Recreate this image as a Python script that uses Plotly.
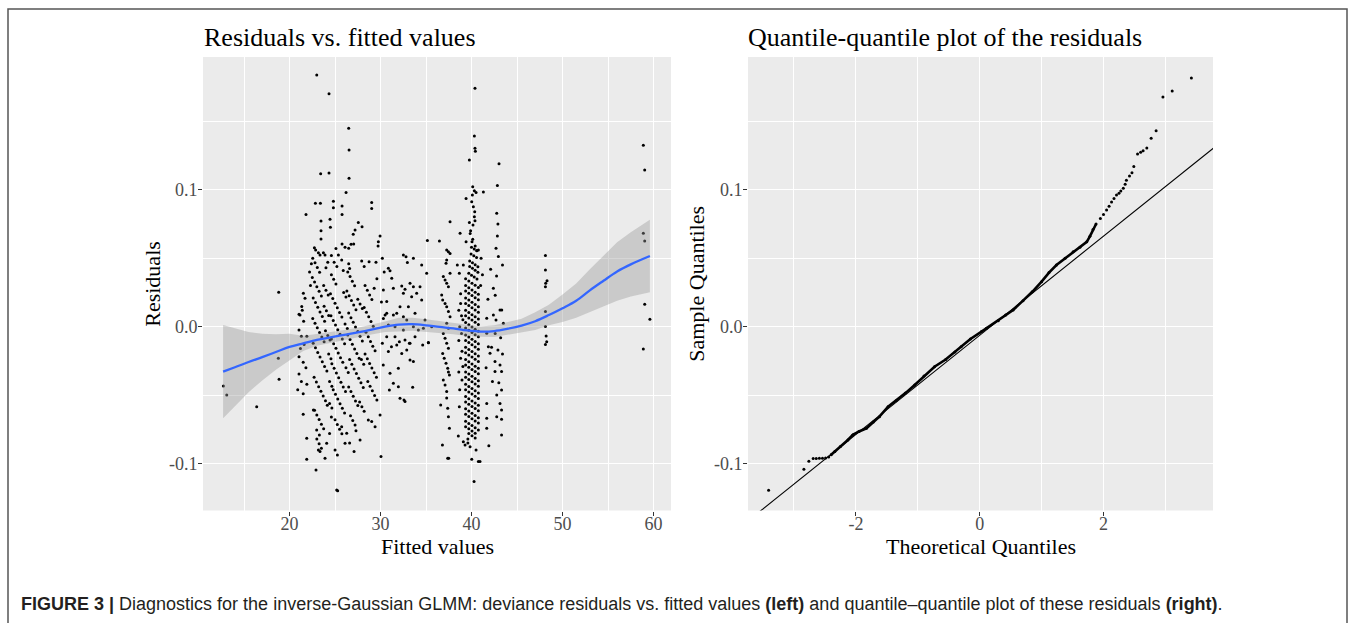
import plotly.graph_objects as go

# ---------------- Left panel: (fitted value, deviance residual) ----------------
pts_outliers = [(12.73, -0.0433), (13.10, -0.0498), (16.39, -0.0584), (18.81, 0.0251), (18.77, -0.0231), (18.85, -0.0384)]

pts_48 = [(48.12, 0.0520), (48.12, 0.0414), (48.30, 0.0336), (48.15, 0.0317), (48.12, 0.0292), (48.12, 0.0110),
          (48.12, 0.0001), (48.20, -0.0068), (48.26, -0.0110), (48.12, -0.0130)]

pts_59 = [(58.88, 0.1324), (59.03, 0.1144), (58.88, 0.0682), (59.03, 0.0626), (59.03, 0.0164), (59.60, 0.0054), (58.88, -0.0163)]

pts_edge21 = [(21.04, 0.0090), (21.04, -0.0024), (21.04, -0.0220), (21.04, -0.0345), (20.90, -0.0460), (21.81, 0.0820),
              (21.52, 0.0244), (21.34, 0.0147), (21.15, 0.0086), (21.70, 0.0207), (21.40, 0.0120), (21.55, 0.0040),
              (21.30, -0.0070), (21.60, -0.0130), (21.90, -0.0070), (21.20, -0.0160), (21.50, -0.0260), (21.80, -0.0300),
              (21.30, -0.0400), (21.90, -0.0420), (21.50, -0.0490), (21.50, -0.0640), (21.89, -0.0815), (21.89, -0.0968)]

pts_upper = [(22.99, 0.1838), (24.34, 0.1701), (26.50, 0.1448), (26.54, 0.1290), (26.54, 0.1083), (23.42, 0.1117),
             (24.34, 0.1122), (26.21, 0.0979), (22.84, 0.0901), (23.39, 0.0901), (24.82, 0.0915), (24.82, 0.0869),
             (25.77, 0.0881), (25.77, 0.0820), (24.45, 0.0784), (23.46, 0.0772), (24.49, 0.0726), (23.46, 0.0701),
             (27.56, 0.0760), (27.97, 0.0730), (27.20, 0.0706), (27.00, 0.0674), (29.03, 0.0906), (29.03, 0.0862),
             (29.95, 0.0662), (29.76, 0.0620), (29.73, 0.0589), (23.46, 0.0640), (22.73, 0.0577), (22.87, 0.0560),
             (23.17, 0.0540), (23.35, 0.0524), (23.72, 0.0540), (23.90, 0.0524), (25.77, 0.0604), (26.10, 0.0580),
             (26.50, 0.0572), (26.76, 0.0602), (27.05, 0.0604), (25.37, 0.0524), (25.73, 0.0487), (27.93, 0.0480),
             (28.74, 0.0475), (26.50, 0.0460), (26.60, 0.0425), (24.20, 0.0470), (24.00, 0.0430), (25.90, 0.0410),
             (28.20, 0.0440), (29.50, 0.0470), (22.40, 0.0460), (29.60, 0.0350), (29.30, 0.0280),
             (22.20, 0.0400), (22.30, 0.0300), (24.60, 0.0520), (24.90, 0.0470), (25.20, 0.0440), (25.10, 0.0570)]

streaks_22 = [(22.55, 0.0500), (22.80, 0.0466), (23.05, 0.0432), (23.30, 0.0398),
              (22.50, 0.0360), (22.75, 0.0326), (23.00, 0.0292), (23.25, 0.0258), (23.50, 0.0224),
              (22.60, 0.0210), (22.85, 0.0176), (23.10, 0.0142), (23.35, 0.0108), (23.60, 0.0074), (23.85, 0.0040),
              (22.55, 0.0060), (22.80, 0.0026), (23.05, -0.0008), (23.30, -0.0042), (23.55, -0.0076), (23.80, -0.0110),
              (22.60, -0.0120), (22.85, -0.0154), (23.10, -0.0188), (23.35, -0.0222), (23.60, -0.0256), (23.85, -0.0290), (24.10, -0.0324),
              (22.70, -0.0370), (22.95, -0.0404), (23.20, -0.0438), (23.45, -0.0472), (23.70, -0.0506), (23.95, -0.0540), (24.15, -0.0574),
              (22.75, -0.0610), (23.00, -0.0644), (23.25, -0.0678), (23.50, -0.0712), (23.75, -0.0746),
              (23.00, -0.0820), (23.25, -0.0854), (23.50, -0.0888)]

streaks_24 = [(23.75, 0.0300), (24.00, 0.0266), (24.25, 0.0232),
              (23.80, 0.0150), (24.05, 0.0116), (24.30, 0.0082),
              (23.95, -0.0030), (24.20, -0.0064), (24.45, -0.0098),
              (24.30, -0.0200), (24.55, -0.0234),
              (24.40, -0.0400), (24.65, -0.0434),
              (24.40, -0.0560), (24.65, -0.0594)]

streaks_25 = [(24.60, 0.0380), (24.85, 0.0346), (25.10, 0.0312),
              (24.50, 0.0240), (24.75, 0.0206), (25.00, 0.0172), (25.25, 0.0138), (25.50, 0.0104), (25.75, 0.0070),
              (24.55, 0.0080), (24.80, 0.0046), (25.05, 0.0012), (25.30, -0.0022), (25.55, -0.0056), (25.80, -0.0090), (26.05, -0.0124),
              (24.60, -0.0090), (24.85, -0.0124), (25.10, -0.0158), (25.35, -0.0192), (25.60, -0.0226), (25.85, -0.0260),
              (24.65, -0.0270), (24.90, -0.0304), (25.15, -0.0338), (25.40, -0.0372), (25.65, -0.0406), (25.90, -0.0440), (26.15, -0.0474),
              (24.80, -0.0460), (25.05, -0.0494), (25.30, -0.0528), (25.55, -0.0562), (25.80, -0.0596), (26.05, -0.0630),
              (25.00, -0.0680), (25.25, -0.0714), (25.50, -0.0748), (25.75, -0.0782),
              (25.95, 0.0250), (26.20, 0.0216), (26.10, 0.0020), (26.35, -0.0014), (26.20, -0.0300), (26.45, -0.0334)]

streaks_27 = [(26.40, 0.0400), (26.65, 0.0366), (26.90, 0.0332), (27.15, 0.0298),
              (26.30, 0.0260), (26.55, 0.0226), (26.80, 0.0192), (27.05, 0.0158), (27.30, 0.0124),
              (26.50, 0.0100), (26.75, 0.0066), (27.00, 0.0032), (27.25, -0.0002), (27.50, -0.0036), (27.75, -0.0070), (28.00, -0.0104),
              (26.40, -0.0060), (26.65, -0.0094), (26.90, -0.0128), (27.15, -0.0162), (27.40, -0.0196), (27.65, -0.0230),
              (26.60, -0.0240), (26.85, -0.0274), (27.10, -0.0308), (27.35, -0.0342), (27.60, -0.0376), (27.85, -0.0410), (28.10, -0.0444),
              (26.50, -0.0440), (26.75, -0.0474), (27.00, -0.0508), (27.25, -0.0542), (27.50, -0.0576),
              (26.70, -0.0650), (26.95, -0.0684), (27.20, -0.0718),
              (27.50, 0.0200), (27.75, 0.0166), (28.00, 0.0132), (27.90, -0.0240), (28.15, -0.0274),
              (27.70, -0.0550), (27.95, -0.0584), (28.20, -0.0618)]

streaks_29 = [(28.30, 0.0300), (28.55, 0.0266), (28.80, 0.0232), (29.05, 0.0198),
              (28.20, 0.0140), (28.45, 0.0106), (28.70, 0.0072), (28.95, 0.0038), (29.20, 0.0004),
              (28.40, -0.0040), (28.65, -0.0074), (28.90, -0.0108), (29.15, -0.0142), (29.40, -0.0176),
              (28.30, -0.0200), (28.55, -0.0234), (28.80, -0.0268), (29.05, -0.0302), (29.30, -0.0336), (29.55, -0.0370),
              (28.60, -0.0400), (28.85, -0.0434), (29.10, -0.0468), (29.35, -0.0502), (29.60, -0.0536)]

pts_low = [(22.62, -0.0608), (22.98, -0.0754), (23.28, -0.0790), (23.17, -0.0900), (23.35, -0.0912), (23.90, -0.0960),
           (22.91, -0.1046), (24.08, -0.0851), (25.00, -0.0900), (25.26, -0.0936), (26.10, -0.0851), (27.09, -0.0912),
           (27.75, -0.0827), (28.66, -0.0681), (29.03, -0.0693), (29.40, -0.0730), (29.95, -0.0645), (25.18, -0.1192),
           (25.29, -0.1197), (26.28, -0.0778), (25.73, -0.0730), (24.40, -0.0780), (26.60, -0.0850), (27.30, -0.0760),
           (24.60, -0.0660)]

pts_mid = [(30.86, 0.0426), (31.04, 0.0409), (31.23, 0.0353), (30.31, 0.0268), (31.41, 0.0280), (32.51, 0.0524),
           (32.80, 0.0511), (33.61, 0.0499), (32.95, 0.0468), (34.52, 0.0451), (35.07, 0.0390), (32.33, 0.0297),
           (32.69, 0.0273), (33.24, 0.0317), (33.61, 0.0292), (34.34, 0.0292), (33.97, 0.0244), (32.51, 0.0244),
           (33.42, 0.0219), (34.52, 0.0195), (33.06, 0.0146), (32.14, 0.0146), (30.68, 0.0183), (31.41, 0.0086),
           (31.78, 0.0098), (30.68, 0.0098), (30.31, 0.0060), (32.51, 0.0073), (32.88, 0.0049), (33.79, 0.0098),
           (34.89, 0.0049), (30.86, 0.0012), (31.59, 0.0000), (32.51, -0.0024), (33.61, 0.0000), (34.71, -0.0012),
           (35.62, 0.0000), (30.68, -0.0073), (31.59, -0.0073), (31.78, -0.0134), (32.69, -0.0097), (33.24, -0.0121),
           (33.79, -0.0073), (34.63, -0.0134), (35.26, -0.0116), (30.86, -0.0182), (32.33, -0.0195), (32.88, -0.0170),
           (33.24, -0.0243), (33.61, -0.0255), (31.96, -0.0304), (31.04, -0.0340), (31.41, -0.0413), (32.14, -0.0522),
           (32.69, -0.0547), (30.97, -0.0462), (33.53, -0.0442), (30.05, -0.0948), (34.16, -0.0024), (35.15, 0.0630),
           (36.47, 0.0626), (31.96, -0.0438), (32.58, -0.0535), (30.50, 0.0085), (31.20, -0.0146), (32.07, -0.0110),
           (33.17, -0.0121), (35.26, -0.0117), (30.20, 0.0500), (30.40, 0.0400), (30.10, 0.0180), (30.20, -0.0120),
           (30.30, -0.0280)]

pts_37 = [(37.64, 0.0767), (37.27, 0.0560), (37.46, 0.0548), (37.64, 0.0535), (37.27, 0.0487), (37.20, 0.0463),
          (37.64, 0.0390), (36.90, 0.0366), (37.09, 0.0340), (37.27, 0.0317), (37.46, 0.0292), (36.72, 0.0232),
          (36.83, 0.0195), (37.09, 0.0170), (37.27, 0.0146), (37.46, 0.0110), (37.64, 0.0073), (37.27, 0.0025),
          (37.46, -0.0012), (36.90, -0.0049), (37.09, -0.0085), (37.27, -0.0121), (37.46, -0.0158), (36.83, -0.0195),
          (37.00, -0.0231), (37.20, -0.0267), (37.38, -0.0304), (37.57, -0.0352), (36.90, -0.0389), (37.09, -0.0425),
          (37.27, -0.0474), (36.61, -0.0571), (37.38, -0.0596), (37.46, -0.0657), (37.57, -0.0742), (36.80, -0.0863),
          (37.38, -0.0960), (37.49, -0.0960), (37.27, -0.0520), (37.46, -0.0330),
          (38.74, 0.0682), (38.44, 0.0451), (38.66, 0.0390), (38.80, 0.0240), (38.80, 0.0170), (38.60, 0.0120),
          (38.90, 0.0080), (39.05, 0.0050), (38.70, 0.0000), (38.90, -0.0050), (38.60, -0.0100), (38.95, -0.0180),
          (38.80, -0.0230), (39.05, -0.0290), (38.60, -0.0330), (38.95, -0.0390), (38.70, -0.0460), (38.66, -0.0584),
          (38.55, -0.0798), (39.10, -0.0840), (39.60, -0.0850), (39.40, 0.0620), (39.10, 0.0450)]

pts_40_sparse = [(40.38, 0.1740), (40.31, 0.1392), (40.38, 0.1302), (40.42, 0.1280), (39.76, 0.1217), (40.13, 0.1022),
                 (40.31, 0.0993), (40.50, 0.0979), (40.09, 0.0962), (41.30, 0.0983), (39.40, 0.0935), (40.02, 0.0913),
                 (40.20, 0.0876), (40.35, 0.0840), (40.31, 0.0803), (40.38, 0.0774), (40.16, 0.0743), (39.76, 0.0760),
                 (39.90, 0.0700), (39.85, 0.0680), (40.13, 0.0638), (40.05, 0.0620), (40.40, 0.0590), (40.57, 0.0555),
                 (40.75, 0.0560), (41.05, 0.0500), (41.20, 0.0380), (41.00, 0.0300),
                 (39.29, -0.0863), (39.84, -0.0876), (40.02, -0.0968), (40.75, -0.0985), (40.28, -0.1130),
                 (40.93, -0.0985), (40.50, -0.0900), (39.60, -0.0820)]

streaks_40 = [(40.00, 0.0580), (40.30, 0.0568), (40.60, 0.0556),
              (39.95, 0.0530), (40.25, 0.0518), (40.55, 0.0506),
              (39.80, 0.0480), (40.10, 0.0466), (40.40, 0.0452), (40.70, 0.0438),
              (39.80, 0.0440), (40.10, 0.0426), (40.40, 0.0412), (40.70, 0.0398),
              (39.70, 0.0390), (40.00, 0.0376), (40.30, 0.0362), (40.60, 0.0348),
              (39.35, 0.0350), (39.70, 0.0334), (40.05, 0.0318), (40.40, 0.0302), (40.75, 0.0286),
              (39.35, 0.0300), (39.70, 0.0284), (40.05, 0.0268), (40.40, 0.0252), (40.75, 0.0236),
              (39.35, 0.0260), (39.70, 0.0244), (40.05, 0.0228), (40.40, 0.0212), (40.75, 0.0196),
              (39.35, 0.0210), (39.70, 0.0194), (40.05, 0.0178), (40.40, 0.0162), (40.75, 0.0146),
              (39.35, 0.0170), (39.70, 0.0154), (40.05, 0.0138), (40.40, 0.0122), (40.75, 0.0106),
              (39.35, 0.0120), (39.70, 0.0104), (40.05, 0.0088), (40.40, 0.0072), (40.75, 0.0056),
              (39.35, 0.0080), (39.70, 0.0064), (40.05, 0.0048), (40.40, 0.0032), (40.75, 0.0016),
              (39.35, 0.0030), (39.70, 0.0014), (40.05, -0.0002), (40.40, -0.0018), (40.75, -0.0034),
              (39.35, -0.0010), (39.70, -0.0026), (40.05, -0.0042), (40.40, -0.0058), (40.75, -0.0074),
              (39.35, -0.0060), (39.70, -0.0076), (40.05, -0.0092), (40.40, -0.0108), (40.75, -0.0124),
              (39.35, -0.0100), (39.70, -0.0116), (40.05, -0.0132), (40.40, -0.0148), (40.75, -0.0164),
              (39.35, -0.0150), (39.70, -0.0166), (40.05, -0.0182), (40.40, -0.0198), (40.75, -0.0214),
              (39.35, -0.0190), (39.70, -0.0206), (40.05, -0.0222), (40.40, -0.0238), (40.75, -0.0254),
              (39.35, -0.0240), (39.70, -0.0256), (40.05, -0.0272), (40.40, -0.0288), (40.75, -0.0304),
              (39.35, -0.0280), (39.70, -0.0296), (40.05, -0.0312), (40.40, -0.0328), (40.75, -0.0344),
              (39.35, -0.0330), (39.70, -0.0346), (40.05, -0.0362), (40.40, -0.0378), (40.75, -0.0394),
              (39.35, -0.0370), (39.70, -0.0386), (40.05, -0.0402), (40.40, -0.0418), (40.75, -0.0434),
              (39.35, -0.0420), (39.70, -0.0436), (40.05, -0.0452), (40.40, -0.0468), (40.75, -0.0484),
              (39.35, -0.0460), (39.70, -0.0476), (40.05, -0.0492), (40.40, -0.0508), (40.75, -0.0524),
              (39.35, -0.0510), (39.70, -0.0526), (40.05, -0.0542), (40.40, -0.0558), (40.75, -0.0574),
              (39.35, -0.0550), (39.70, -0.0566), (40.05, -0.0582), (40.40, -0.0598), (40.75, -0.0614),
              (39.35, -0.0600), (39.70, -0.0616), (40.05, -0.0632), (40.40, -0.0648), (40.75, -0.0664),
              (39.35, -0.0640), (39.70, -0.0656), (40.05, -0.0672), (40.40, -0.0688), (40.75, -0.0704),
              (39.35, -0.0690), (39.70, -0.0706), (40.05, -0.0722), (40.40, -0.0738), (40.75, -0.0754),
              (39.35, -0.0730), (39.70, -0.0746), (40.05, -0.0762), (40.40, -0.0778),
              (39.70, -0.0780), (40.05, -0.0796), (40.40, -0.0812)]

pts_43 = [(43.02, 0.1190), (42.84, 0.1030), (42.77, 0.0828), (42.84, 0.0662), (42.69, 0.0572), (42.95, 0.0512),
          (42.75, 0.0370), (42.40, 0.0280), (42.60, 0.0230), (43.13, 0.0122), (41.67, 0.0061), (42.40, 0.0085),
          (42.69, 0.0049), (43.32, 0.0122), (43.50, 0.0025), (41.67, -0.0048), (42.60, -0.0050), (43.20, -0.0080),
          (41.85, -0.0146), (42.03, -0.0194), (42.58, -0.0255), (43.13, -0.0280), (43.30, -0.0328), (42.58, -0.0328),
          (42.30, -0.0400), (43.00, -0.0410), (43.30, -0.0462), (42.77, -0.0498), (43.13, -0.0560), (43.30, -0.0608),
          (41.67, -0.0560), (41.67, -0.0669), (42.77, -0.0657), (43.30, -0.0676), (43.30, -0.0790), (41.67, -0.0742),
          (42.20, -0.0150), (42.90, -0.0170), (43.40, -0.0200), (41.80, 0.0200), (42.10, 0.0420), (43.40, 0.0450),
          (42.90, 0.0750), (41.60, -0.0300), (41.90, -0.0870)]

point_groups = [pts_outliers, pts_48, pts_59, pts_edge21, pts_upper, streaks_22, streaks_24, streaks_25, streaks_27,
                streaks_29, pts_low, pts_mid, pts_37, pts_40_sparse, streaks_40, pts_43]
fitted = [p[0] for g in point_groups for p in g]
resid = [p[1] for g in point_groups for p in g]

# loess smooth (geom_smooth)
smooth_x = [12.7, 14.0, 15.5, 17.0, 18.5, 20.0, 21.5, 23.0, 24.5, 26.0, 27.5, 29.0, 30.5, 32.0, 33.5, 35.0,
            36.5, 38.0, 39.5, 41.0, 42.5, 44.0, 45.5, 47.0, 48.5, 50.0, 51.5, 53.0, 54.5, 56.0, 57.5, 59.6]
smooth_fit = [-0.0328, -0.0296, -0.0258, -0.0222, -0.0185, -0.0148, -0.0122, -0.0097, -0.0078, -0.0060, -0.0042,
              -0.0022, 0.0000, 0.0015, 0.0018, 0.0010, -0.0002, -0.0012, -0.0027, -0.0036, -0.0032, -0.0015, 0.0008,
              0.0040, 0.0085, 0.0135, 0.0190, 0.0265, 0.0335, 0.0403, 0.0455, 0.0516]
smooth_lo = [-0.0668, -0.0580, -0.0478, -0.0392, -0.0315, -0.0245, -0.0177, -0.0140, -0.0115, -0.0096, -0.0077,
             -0.0057, -0.0038, -0.0035, -0.0030, -0.0035, -0.0045, -0.0055, -0.0068, -0.0073, -0.0075, -0.0063,
             -0.0042, -0.0025, 0.0010, 0.0035, 0.0065, 0.0110, 0.0150, 0.0190, 0.0220, 0.0252]
smooth_hi = [0.0012, -0.0012, -0.0038, -0.0052, -0.0055, -0.0051, -0.0067, -0.0054, -0.0041, -0.0024, -0.0007,
             0.0013, 0.0038, 0.0065, 0.0066, 0.0055, 0.0041, 0.0031, 0.0014, 0.0001, 0.0011, 0.0033, 0.0058,
             0.0105, 0.0160, 0.0235, 0.0315, 0.0420, 0.0520, 0.0616, 0.0690, 0.0780]

# ---------------- Right panel: normal Q-Q plot ----------------
qq_low_theo = [-3.41, -2.84, -2.76, -2.69, -2.64, -2.59, -2.54, -2.49, -2.44]
qq_low_samp = [-0.1194, -0.1040, -0.0983, -0.0962, -0.0962, -0.0961, -0.0960, -0.0958, -0.0952]
qq_body_theo = [-2.40, -2.34, -2.25, -2.13, -2.05, -1.95, -1.83, -1.72, -1.62, -1.48, -1.35, -1.20, -1.05, -0.90,
                -0.73, -0.55, -0.40, -0.30, -0.15, 0.03, 0.11, 0.30, 0.42, 0.54, 0.70, 0.85, 1.00, 1.12, 1.24,
                1.38, 1.51, 1.62, 1.73, 1.78, 1.83, 1.88]
qq_body_samp = [-0.0935, -0.0912, -0.0875, -0.0827, -0.0790, -0.0765, -0.0742, -0.0695, -0.0657, -0.0584, -0.0540,
                -0.0485, -0.0426, -0.0360, -0.0292, -0.0240, -0.0185, -0.0146, -0.0090, -0.0036, -0.0012, 0.0044,
                0.0085, 0.0122, 0.0190, 0.0255, 0.0329, 0.0395, 0.0450, 0.0500, 0.0547, 0.0580, 0.0620, 0.0660,
                0.0710, 0.0750]
qq_high_theo = [1.95, 2.00, 2.05, 2.09, 2.13, 2.17, 2.21, 2.25, 2.28, 2.32, 2.35, 2.37, 2.42, 2.46, 2.49, 2.55,
                2.60, 2.64, 2.70, 2.77, 2.85, 2.96, 3.11, 3.42]
qq_high_samp = [0.0790, 0.0820, 0.0852, 0.0880, 0.0910, 0.0935, 0.0961, 0.0975, 0.0990, 0.1010, 0.1040, 0.1070,
                0.1100, 0.1124, 0.1170, 0.1260, 0.1273, 0.1285, 0.1304, 0.1375, 0.1430, 0.1677, 0.1720, 0.1815]
qq_line_intercept = -0.0063
qq_line_slope = 0.0362

# axis settings
left_x_range = [10.49, 61.92]
right_x_range = [-3.743, 3.769]
y_range = [-0.1342, 0.1969]
left_x_ticks = [20, 30, 40, 50, 60]
left_x_minor = [15, 25, 35, 45, 55]
right_x_ticks = [-2, 0, 2]
right_x_minor = [-3, -1, 1, 3]
y_ticks = [-0.1, 0.0, 0.1]
y_tick_labels = ["-0.1", "0.0", "0.1"]
y_minor = [-0.05, 0.05, 0.15]

W, H = 1355, 623
SERIF = "Liberation Serif"

fig = go.Figure()
fig.add_trace(go.Scatter(x=fitted, y=resid, mode="markers", xaxis="x", yaxis="y",
                         marker=dict(size=3, color="black"), hoverinfo="skip", showlegend=False))
fig.add_trace(go.Scatter(x=smooth_x + smooth_x[::-1], y=smooth_hi + smooth_lo[::-1], xaxis="x", yaxis="y",
                         mode="lines", fill="toself", fillcolor="rgba(153,153,153,0.4)", line=dict(width=0),
                         hoverinfo="skip", showlegend=False))
fig.add_trace(go.Scatter(x=smooth_x, y=smooth_fit, mode="lines", xaxis="x", yaxis="y",
                         line=dict(color="#3366FF", width=2.3, shape="spline"), hoverinfo="skip", showlegend=False))

fig.add_trace(go.Scatter(x=qq_low_theo, y=qq_low_samp, mode="markers", xaxis="x2", yaxis="y2",
                         marker=dict(size=3, color="black"), hoverinfo="skip", showlegend=False))
fig.add_trace(go.Scatter(x=qq_body_theo, y=qq_body_samp, mode="lines+markers", xaxis="x2", yaxis="y2",
                         line=dict(color="black", width=2.6), marker=dict(size=3, color="black"),
                         hoverinfo="skip", showlegend=False))
fig.add_trace(go.Scatter(x=qq_high_theo, y=qq_high_samp, mode="markers", xaxis="x2", yaxis="y2",
                         marker=dict(size=3, color="black"), hoverinfo="skip", showlegend=False))
line_x = [right_x_range[0] - 0.2, right_x_range[1] + 0.2]
fig.add_trace(go.Scatter(x=line_x, y=[qq_line_intercept + qq_line_slope * v for v in line_x], mode="lines",
                         xaxis="x2", yaxis="y2", line=dict(color="black", width=1.1),
                         hoverinfo="skip", showlegend=False))

def xax(domain, rng, ticks, minor):
    return dict(domain=domain, range=rng, tickmode="array", tickvals=ticks, ticktext=[str(t) for t in ticks],
                showgrid=True, gridcolor="white", gridwidth=1.2, zeroline=False, showline=False,
                ticks="outside", ticklen=4, tickwidth=1, tickcolor="#333333", ticklabelstandoff=-7,
                tickfont=dict(family=SERIF, size=18, color="#4D4D4D"),
                minor=dict(tickvals=minor, showgrid=True, gridcolor="white", gridwidth=0.6, ticks=""),
                fixedrange=True)

def yax(anchor):
    return dict(domain=[1 - 510.5 / H, 1 - 57 / H], range=y_range, anchor=anchor, tickmode="array",
                tickvals=y_ticks, ticktext=y_tick_labels, showgrid=True, gridcolor="white", gridwidth=1.2,
                zeroline=False, showline=False, ticks="outside", ticklen=4, tickwidth=1, tickcolor="#333333",
                ticklabelstandoff=-3,
                tickfont=dict(family=SERIF, size=18, color="#4D4D4D"),
                minor=dict(tickvals=y_minor, showgrid=True, gridcolor="white", gridwidth=0.6, ticks=""),
                fixedrange=True)

xa1 = xax([203 / W, 671 / W], left_x_range, left_x_ticks, left_x_minor)
xa1["anchor"] = "y"
xa2 = xax([748 / W, 1213 / W], right_x_range, right_x_ticks, right_x_minor)
xa2["anchor"] = "y2"

def ann(text, xp, yp, size, xanchor="center", angle=0, family=SERIF, color="black"):
    return dict(text=text, x=xp / W, y=1 - yp / H, xref="paper", yref="paper", showarrow=False,
                xanchor=xanchor, yanchor="middle", textangle=angle,
                font=dict(family=family, size=size, color=color))

annotations = [
    ann("Residuals vs. fitted values", 202, 37, 26, xanchor="left"),
    ann("Quantile-quantile plot of the residuals", 746, 37, 26, xanchor="left"),
    ann("Fitted values", 437, 546, 22),
    ann("Theoretical Quantiles", 980.5, 546, 22),
    ann("Residuals", 153, 283.75, 22, angle=-90),
    ann("Sample Quantiles", 697, 283.75, 22, angle=-90),
    ann("<b>FIGURE 3 |</b> Diagnostics for the inverse-Gaussian GLMM: deviance residuals vs. fitted values "
        "<b>(left)</b> and quantile\u2013quantile plot of these residuals <b>(right)</b>.",
        19, 604, 18, xanchor="left", family="Liberation Sans", color="#231F20"),
]

fig.update_layout(
    width=W, height=H, margin=dict(l=0, r=0, t=0, b=0),
    paper_bgcolor="white", plot_bgcolor="#EBEBEB",
    xaxis=xa1, yaxis=yax("x"), xaxis2=xa2, yaxis2=yax("x2"),
    annotations=annotations, showlegend=False,
    shapes=[dict(type="rect", xref="paper", yref="paper", x0=8 / W, x1=1347 / W, y0=-0.2, y1=1 - 9 / H,
                 line=dict(color="#555555", width=1.5), fillcolor="rgba(0,0,0,0)", layer="above")],
)

fig.write_html("out.html")
